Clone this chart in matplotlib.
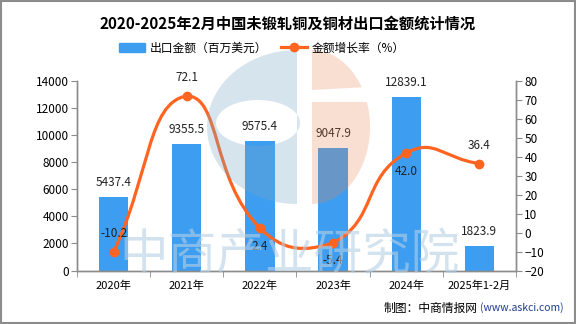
import numpy as np
import matplotlib
matplotlib.use("Agg")
import matplotlib.pyplot as plt
from matplotlib.path import Path
from matplotlib.patches import PathPatch, Rectangle
from matplotlib.lines import Line2D

plt.rcParams['font.family'] = ['Noto Sans CJK SC', 'DejaVu Sans']

# data
years = ["2020年", "2021年", "2022年", "2023年", "2024年", "2025年1-2月"]
amount = [5437.4, 9355.5, 9575.4, 9047.9, 12839.1, 1823.9]
growth = [-10.2, 72.1, 2.4, -5.4, 42.0, 36.4]
growth_label_above = [True, True, False, False, False, True]

bar_color = "#3d9df0"
line_color = "#ff6420"
axis_gray = "#8c8c8c"

W, H = 576, 324
fig = plt.figure(figsize=(W / 100, H / 100), dpi=100)
ax = fig.add_axes([77 / W, 1 - 270.5 / H, (516 - 77) / W, (270.5 - 81) / H])
ax2 = ax.twinx()

x = np.arange(len(years))
ax.set_xlim(-0.5, len(years) - 0.5)
ax.set_ylim(0, 14000)
ax.set_yticks(range(0, 14001, 2000))
ax2.set_ylim(-20, 80)
ax2.set_yticks(range(-20, 81, 10))

ax.bar(x, amount, width=0.4, color=bar_color, zorder=2)
for xi, v in zip(x, amount):
    ax.annotate(f"{v:.1f}", (xi, v), xytext=(0, 10.5), textcoords="offset points",
                ha="center", va="center", fontsize=8.5, color="#222222")

# smooth line, bezier control points the way echarts builds them
def smooth_path(axis, xs, ys, smooth=0.5):
    pts = np.column_stack([xs, ys]).astype(float)
    disp = axis.transData.transform(pts)
    lo, hi = pts.min(axis=0), pts.max(axis=0)
    n = len(pts)
    cps = []
    for i in range(n):
        ip = max(i - 1, 0)
        inx = min(i + 1, n - 1)
        v = (pts[inx] - pts[ip]) * smooth
        lp = np.hypot(*(disp[i] - disp[ip]))
        ln = np.hypot(*(disp[i] - disp[inx]))
        tot = lp + ln
        rp = lp / tot if tot else 0
        rn = ln / tot if tot else 0
        c0 = np.clip(pts[i] - v * rp, lo, hi)
        c1 = np.clip(pts[i] + v * rn, lo, hi)
        cps.append((c0, c1))
    verts = [pts[0]]
    codes = [Path.MOVETO]
    for i in range(n - 1):
        verts += [cps[i][1], cps[i + 1][0], pts[i + 1]]
        codes += [Path.CURVE4] * 3
    return Path(verts, codes)

ax2.add_patch(PathPatch(smooth_path(ax2, x, growth), facecolor="none", edgecolor=line_color,
                        lw=2.3, zorder=3, capstyle="round"))
ax2.plot(x, growth, "o", color=line_color, ms=6, zorder=4)
for xi, v, up in zip(x, growth, growth_label_above):
    ax2.annotate(f"{v:.1f}", (xi, v), xytext=(0, 13 if up else -13), textcoords="offset points",
                 ha="center", va="center", fontsize=8.5, color="#222222", zorder=5)

ax.set_xticks(x)
ax.set_xticklabels(years)
ax.set_xticks(np.arange(-0.5, len(years), 1), minor=True)
ax.tick_params(axis="x", which="major", length=0, pad=7, labelsize=8)
ax.tick_params(axis="x", which="minor", length=4, color=axis_gray)
ax.tick_params(axis="y", length=4, color=axis_gray, labelsize=8.5, pad=2)
ax2.tick_params(axis="y", length=4, color=axis_gray, labelsize=8.5, pad=2)

for a in (ax, ax2):
    a.spines["top"].set_visible(False)
    for s in ("left", "right", "bottom"):
        a.spines[s].set_color(axis_gray)
        a.spines[s].set_linewidth(1)
    a.set_facecolor("none")

# title
fig.text(0.5, 1 - 24 / H, "2020-2025年2月中国未锻轧铜及铜材出口金额统计情况",
         ha="center", va="center", fontsize=11, fontweight="bold")

# legend
handles = [Rectangle((0, 0), 1, 1, color=bar_color),
           Line2D([0], [0], color=line_color, lw=2.3, marker="o", ms=6)]
fig.legend(handles, ["出口金额（百万美元）", "金额增长率（%）"], ncol=2, frameon=False,
           loc="center", bbox_to_anchor=(0.455, 1 - 48 / H), fontsize=8.5,
           handlelength=2.2, handletextpad=0.4, columnspacing=1.2)

# footer
fig.text(478 / W, 1 - 308 / H, "制图：中商情报网", ha="right", va="center", fontsize=8.5)
fig.text(480 / W, 1 - 308 / H, "(www.askci.com)", ha="left", va="center", fontsize=7.5,
         color="#1f3c8c")

# watermark (logo + name)
def px(pts):
    pts = np.asarray(pts, float)
    return np.column_stack([pts[:, 0] / W, 1 - pts[:, 1] / H])

def ellipse_pts(cx, cy, rx, ry, a0, a1, n=60):
    t = np.radians(np.linspace(a0, a1, n))
    return np.column_stack([cx + rx * np.cos(t), cy - ry * np.sin(t)])

outer = ellipse_pts(297, 127, 90, 77, 90, 270)
inner = ellipse_pts(258, 123, 42, 23, 0, 360)[::-1]
blue_path = Path(np.vstack([px(outer), px(outer[:1]), px(inner), px(inner[:1])]),
                 [Path.MOVETO] + [Path.LINETO] * (len(outer) - 1) + [Path.CLOSEPOLY]
                 + [Path.MOVETO] + [Path.LINETO] * (len(inner) - 1) + [Path.CLOSEPOLY])
fig.add_artist(PathPatch(blue_path, transform=fig.transFigure, facecolor="#7aa7c7",
                         edgecolor="none", alpha=0.3, zorder=5))

top = np.vstack([ellipse_pts(312, 127, 58, 77, 90, 31), [[312, 90]]])
bottom = np.vstack([[[312, 102]], ellipse_pts(312, 127, 58, 77, 19, -90)])
for part in (top, bottom):
    p = Path(np.vstack([px(part), px(part[:1])]),
             [Path.MOVETO] + [Path.LINETO] * (len(part) - 1) + [Path.CLOSEPOLY])
    fig.add_artist(PathPatch(p, transform=fig.transFigure, facecolor="#e8834f",
                             edgecolor="none", alpha=0.25, zorder=5))

fig.text(290 / W, 1 - 255 / H, "中商产业研究院", ha="center", va="center", fontsize=35,
         fontweight="medium", color="#b5d0e4", alpha=0.6, zorder=5)

# frame
fig.add_artist(Rectangle((0.001, 0.002), 0.997, 0.996, transform=fig.transFigure,
                         fill=False, edgecolor="#8c8c8c", lw=1.5, zorder=10))

fig.savefig("out.png", dpi=100)
